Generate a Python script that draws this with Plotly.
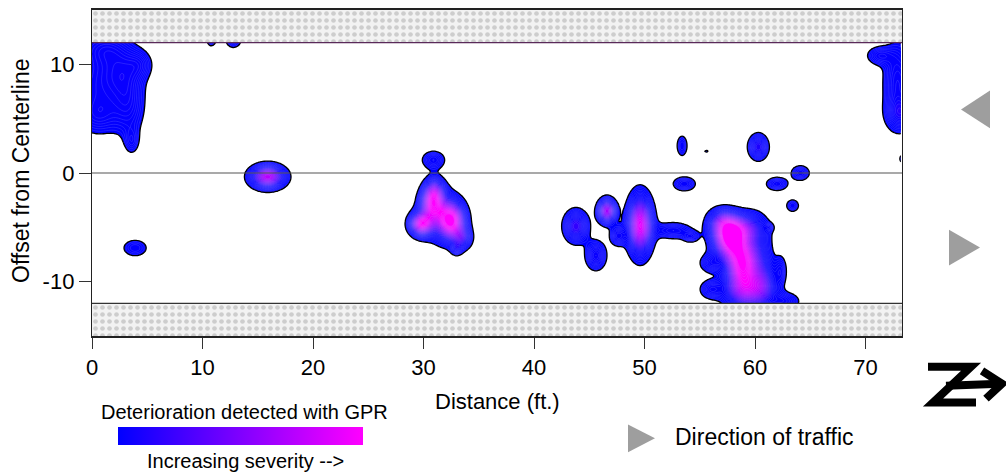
import numpy as np
import plotly.graph_objects as go

# ---------------- data ----------------
# deterioration patches: centre (ft), spread (ft), severity
blob_x = [0.5, 2.8, 3.4, 3.6, 4.4, 1.0, 0.6,
          10.8, 12.8,
          15.9, 3.9, 30.9,
          31.0, 30.8, 29.8, 32.5, 31.6, 33.5, 33.0,
          43.8, 45.6, 46.6, 47.6, 49.6, 52.6, 54.2,
          53.4, 55.6, 53.6, 60.3, 62.0, 64.1, 63.4, 61.3, 62.35,
          57.7, 58.7, 58.8, 57.0, 60.0, 56.0, 56.0, 59.0, 62.6, 60.8,
          72.9, 71.2, 73.2, 73.6]
blob_y = [8.0, 9.5, 6.0, 2.9, 10.0, 11.5, 5.2,
          12.3, 12.3,
          -0.35, -6.9, 1.2,
          -1.5, -2.8, -4.7, -4.4, -4.0, -6.0, -7.0,
          -4.9, -7.6, -3.5, -5.8, -4.8, -5.3, -5.9,
          2.5, 2.0, -1.0, 2.4, -1.0, 0.0, -3.0, -5.0, -9.0,
          -6.0, -8.5, -5.0, -4.4, -8.0, -8.3, -10.7, -11.0, -11.8, -10.3,
          8.3, 10.8, 5.4, 1.3]
blob_sx = [1.8, 1.3, 1.0, 0.45, 0.8, 1.4, 1.2,
           0.35, 0.55,
           1.05, 0.85, 0.74,
           0.6, 0.7, 0.7, 0.8, 1.3, 0.6, 0.35,
           0.75, 0.63, 0.55, 0.5, 0.75, 1.2, 0.5,
           0.38, 0.25, 0.74, 0.6, 0.7, 0.6, 0.45, 0.25, 0.38,
           1.0, 0.9, 1.3, 0.9, 1.0, 0.7, 0.7, 1.3, 1.0, 0.8,
           0.9, 0.8, 0.9, 0.4]
blob_sy = [2.6, 1.8, 2.0, 0.8, 0.9, 1.0, 1.1,
           0.5, 0.6,
           0.72, 0.6, 0.6,
           0.8, 1.0, 0.7, 1.1, 1.6, 0.7, 0.4,
           1.0, 0.89, 0.75, 0.6, 1.8, 0.55, 0.35,
           0.76, 0.15, 0.48, 0.8, 0.45, 0.5, 0.45, 0.25, 0.97,
           1.2, 1.5, 0.8, 0.8, 2.5, 0.6, 0.6, 1.0, 0.6, 1.2,
           2.5, 0.6, 1.0, 0.4]
blob_sev = [0.22, 0.2, 0.2, 0.16, 0.15, 0.15, 0.13,
            0.2, 0.22,
            0.75, 0.2, 0.25,
            0.35, 0.7, 0.8, 0.85, 0.3, 0.35, 0.2,
            0.45, 0.35, 0.7, 0.3, 0.85, 0.25, 0.2,
            0.2, 0.12, 0.25, 0.4, 0.25, 0.25, 0.2, 0.15, 0.2,
            1.0, 0.8, 0.35, 0.35, 0.35, 0.25, 0.25, 0.45, 0.25, 0.3,
            0.3, 0.22, 0.25, 0.2]

x_ticks = [0, 10, 20, 30, 40, 50, 60, 70]
y_ticks = [-10, 0, 10]
y_tick_text = ['-10', '0', '10']
x_range = [0, 73.3]
y_range = [-15, 15]
deck_edge = 12           # shaded curb zones beyond +/-12 ft

# ---------------- build the severity field ----------------
xg = np.arange(0, 73.3 + 1e-9, 0.15)
yg = np.linspace(-deck_edge, deck_edge, 241)
XX, YY = np.meshgrid(xg, yg)
Z = np.zeros_like(XX)
for bx, by, sx, sy, a in zip(blob_x, blob_y, blob_sx, blob_sy, blob_sev):
    Z += a * np.exp(-0.5 * (((XX - bx) / sx) ** 2 + ((YY - by) / sy) ** 2))

start, end, size = 0.1, 1.0, 0.025
nc = int(np.floor((end + size / 1e6 - start) / size)) + 1


def pv(v):
    return min(max(((v - start) / size + 0.5) / nc, 0), 1)


p0 = 0.5 / nc
cscale = [[0, '#ffffff'], [p0, '#ffffff'], [p0 + 1e-4, '#0000ff'],
          [pv(0.35), '#0a00ff'], [pv(0.65), '#9000ff'], [pv(0.9), '#ff00ff'],
          [1, '#ff00ff']]

fig = go.Figure()

# shaded zones
for y0, y1 in [(deck_edge, 15), (-15, -deck_edge)]:
    fig.add_trace(go.Scatter(
        x=[x_range[0], x_range[1], x_range[1], x_range[0], x_range[0]],
        y=[y0, y0, y1, y1, y0], mode='lines', fill='toself',
        line=dict(width=0), fillcolor='#efefef',
        fillpattern=dict(shape='.', bgcolor='#f2f2f2', fgcolor='#a8a8a8',
                         size=7, solidity=0.35),
        showlegend=False, hoverinfo='skip'))

fig.add_trace(go.Contour(
    x=xg, y=yg, z=Z, colorscale=cscale, showscale=False,
    contours=dict(start=start, end=end, size=size, coloring='fill'),
    line=dict(color='rgba(200,190,255,0.35)', width=0.5, smoothing=1),
    hoverinfo='skip'))

fig.add_trace(go.Contour(
    x=xg, y=yg, z=Z, showscale=False,
    contours=dict(start=start, end=start, size=1, coloring='none'),
    line=dict(color='black', width=1.3, smoothing=1),
    hoverinfo='skip'))


def X(px):
    return (px - 92) / 810.0


def Y(py):
    return (336 - py) / 328.0


# legend colour bar (dummy marker outside the axis range)
fig.add_trace(go.Scatter(
    x=[-100], y=[0], mode='markers', showlegend=False, hoverinfo='skip',
    marker=dict(color=[0], cmin=0, cmax=1, size=1,
                colorscale=[[0, '#0000ff'], [1, '#ff00ff']], showscale=True,
                colorbar=dict(orientation='h', x=X(240.5), xanchor='center',
                              y=Y(437), yanchor='middle', len=245, lenmode='pixels',
                              thickness=18, thicknessmode='pixels',
                              outlinewidth=0, ticks='', showticklabels=False,
                              xpad=0, ypad=0))))

font = 'Liberation Sans, Arial, sans-serif'

shapes = []
for yy, col in [(0, '#555555'), (deck_edge, '#5a2a5a'), (-deck_edge, '#333333')]:
    shapes.append(dict(type='line', xref='x', yref='y', x0=x_range[0], x1=x_range[1],
                       y0=yy, y1=yy, line=dict(color=col, width=1.2), layer='above'))


def tri(points, color='#9e9e9e'):
    path = 'M ' + ' L '.join(f'{X(a):.5f},{Y(b):.5f}' for a, b in points) + ' Z'
    return dict(type='path', xref='paper', yref='paper', path=path,
                fillcolor=color, line=dict(width=0))


shapes.append(tri([(961, 108), (990, 89), (990, 127)]))
shapes.append(tri([(980, 247), (949, 229), (949, 265)]))
shapes.append(tri([(655, 439), (628, 425), (628, 453)]))


def poly(points, width=8):
    path = 'M ' + ' L '.join(f'{X(a):.5f},{Y(b):.5f}' for a, b in points)
    return dict(type='path', xref='paper', yref='paper', path=path,
                line=dict(color='black', width=width))


shapes.append(poly([(928, 367), (971, 367), (933, 403), (976, 403)]))
shapes.append(poly([(946, 386), (1000, 384)]))
shapes.append(poly([(982, 371), (1002, 384), (986, 399)]))

annotations = [
    dict(text='Distance (ft.)', x=X(497.5), y=Y(402), xref='paper', yref='paper',
         showarrow=False, font=dict(size=22, family=font, color='black'),
         xanchor='center', yanchor='middle'),
    dict(text='Offset from Centerline', x=X(21), y=Y(170), xref='paper', yref='paper',
         showarrow=False, textangle=-90, font=dict(size=23, family=font, color='black'),
         xanchor='center', yanchor='middle'),
    dict(text='Deterioration detected with GPR', x=X(244), y=Y(412), xref='paper',
         yref='paper', showarrow=False, font=dict(size=20, family=font, color='black'),
         xanchor='center', yanchor='middle'),
    dict(text='Increasing severity -->', x=X(245), y=Y(462), xref='paper',
         yref='paper', showarrow=False, font=dict(size=20, family=font, color='black'),
         xanchor='center', yanchor='middle'),
    dict(text='Direction of traffic', x=X(673), y=Y(438), xref='paper',
         yref='paper', showarrow=False, font=dict(size=23, family=font, color='black'),
         xanchor='left', yanchor='middle'),
]

fig.update_layout(
    width=1006, height=476,
    margin=dict(l=92, r=104, t=8, b=140, pad=0),
    paper_bgcolor='white', plot_bgcolor='white',
    font=dict(family=font, size=22, color='black'),
    shapes=shapes, annotations=annotations, showlegend=False,
    xaxis=dict(range=x_range, tickvals=x_ticks, ticks='outside', ticklen=11,
               tickwidth=1.2, tickcolor='#333', showgrid=False, zeroline=False,
               showline=True, linecolor='#222', linewidth=1.6, mirror=True,
               tickfont=dict(size=22, family=font, color='black')),
    yaxis=dict(range=y_range, tickvals=y_ticks, ticktext=y_tick_text,
               ticks='outside', ticklen=12,
               tickwidth=1.2, tickcolor='#333', showgrid=False, zeroline=False,
               showline=True, linecolor='#222', linewidth=1.4, mirror=True,
               tickfont=dict(size=22, family=font, color='black')),
)

fig.write_html('out.html', config={'displayModeBar': False},
               post_script="document.body.style.margin='0px';"
                           "document.body.style.overflow='hidden';")
